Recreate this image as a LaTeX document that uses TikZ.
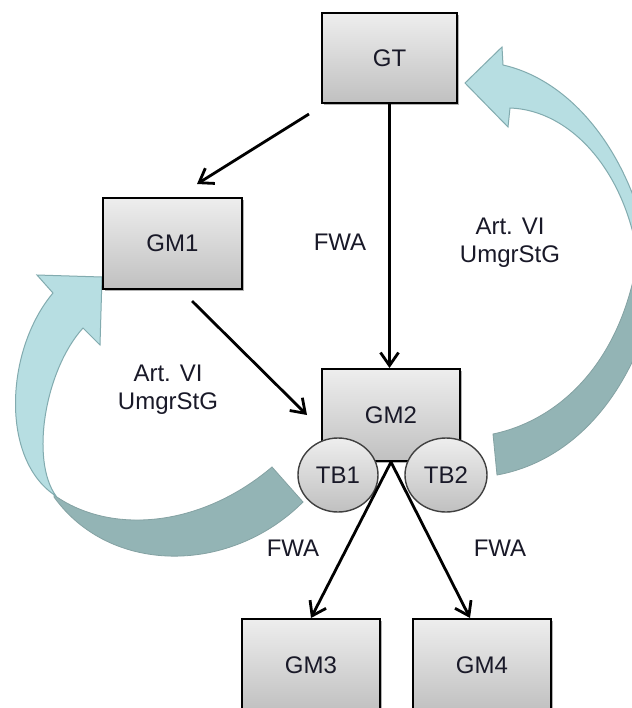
\documentclass[tikz,border=0pt]{standalone}
\usepackage{fontspec}
\setmainfont{Liberation Sans}
\usetikzlibrary{arrows.meta,shapes.geometric,shadows}
\definecolor{cyanlight}{HTML}{B7DEE2}
\definecolor{cyandark}{HTML}{93B4B5}
\definecolor{cyanedge}{HTML}{82ABAF}
\definecolor{boxtop}{RGB}{238,238,238}
\definecolor{boxbot}{RGB}{192,192,192}
\definecolor{txt}{RGB}{25,25,40}
\begin{document}
\begin{tikzpicture}[x=0.5pt,y=-0.5pt,
  every node/.style={font=\fontsize{12}{14}\selectfont, text=txt},
  gbox/.style={rectangle, draw=black, line width=1pt, top color=boxtop, bottom color=boxbot,
    minimum width=69pt, minimum height=46pt, inner sep=0pt,
    drop shadow={shadow xshift=1pt, shadow yshift=-1pt, opacity=0.3, fill=black}},
  tbnode/.style={ellipse, draw=black!75, line width=0.7pt, top color=boxtop, bottom color=boxbot,
    minimum width=40pt, minimum height=37pt, inner sep=0pt},
  arr/.style={line width=1.4pt, -{Straight Barb[length=6.5pt,width=9pt]}},
  lbl/.style={align=center, inner sep=0pt},
  lightpart/.style={fill=cyanlight, draw=cyanedge, line width=0.5pt, line join=miter},
  darkpart/.style={fill=cyandark, draw=cyandark!90!black, line width=0.4pt}
]
\clip (0,0) rectangle (632,708);
\fill[white] (0,0) rectangle (632,708);

% right curved arrow
\filldraw[darkpart] (640,240) .. controls (627,360) and (560,420) .. (493,434)
  -- (497,475) .. controls (580,460) and (650,380) .. (665,240) -- cycle;
\filldraw[lightpart] (510,108) -- (508,127) -- (465,83) -- (502,47) -- (503,65)
  .. controls (570,80) and (630,150) .. (650,255)
  -- (638,258) .. controls (625,170) and (570,110) .. (510,108) -- cycle;

% left curved arrow
\filldraw[darkpart] (54,495) .. controls (110,535) and (200,528) .. (272,467)
  -- (303,502) .. controls (230,575) and (110,575) .. (54,497) -- cycle;
\filldraw[lightpart] (102,277) -- (100,345) -- (83,328)
  .. controls (45,370) and (30,460) .. (56,496)
  .. controls (0,460) and (5,350) .. (53,293)
  -- (37,275) -- cycle;

% boxes
\node[gbox, minimum width=67.5pt, minimum height=45pt] (GT) at (389.5,58) {GT};
\node[gbox, minimum width=69.5pt, minimum height=45.5pt] (GM1) at (172.5,243.5) {GM1};
\node[gbox] (GM2) at (391,415) {GM2};
\node[gbox] (GM3) at (311,665) {GM3};
\node[gbox] (GM4) at (482,665) {GM4};

\node[tbnode] (TB1) at (338,475) {TB1};
\node[tbnode, minimum width=41pt] (TB2) at (446,475) {TB2};

% labels
\node[lbl] (l1) at (340,242) {FWA};
\node[lbl] (l2) at (510,243) {Art. VI\\UmgrStG};
\node[lbl] (l3) at (168,390) {Art. VI\\UmgrStG};
\node[lbl] (l4) at (293,548) {FWA};
\node[lbl] (l5) at (500,548) {FWA};

% connectors
\draw[arr] ([shift={(-12,10)}]GT.south west) -- ([shift={(24.5,-13)}]GM1.north);
\draw[arr] (GT.south) -- (GT.south |- GM2.north);
\draw[arr] ([shift={(19.5,11)}]GM1.south) -- ([shift={(-14,0)}]GM2.west);
\draw[arr] (GM2.south) -- (GM3.north);
\draw[arr] (GM2.south) -- ([shift={(-12,0)}]GM4.north);
\end{tikzpicture}
\end{document}
